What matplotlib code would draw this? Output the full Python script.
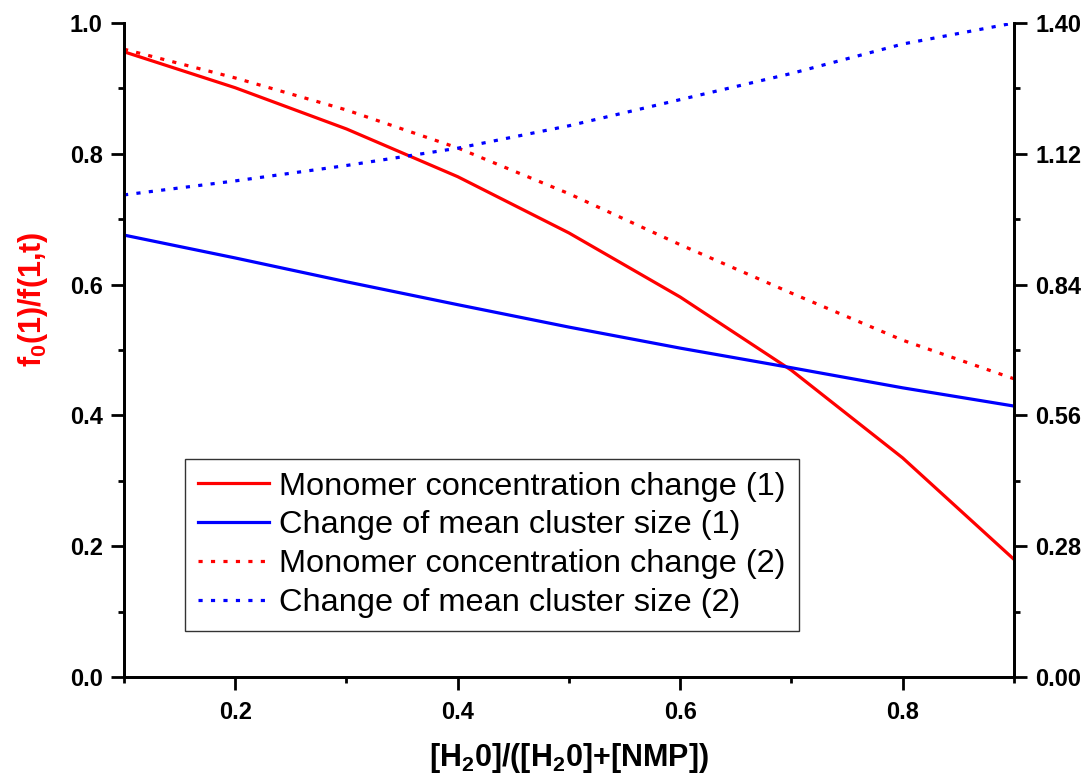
import matplotlib
matplotlib.use("Agg")
import matplotlib.pyplot as plt
from matplotlib.ticker import FixedLocator

plt.rcParams['font.family'] = ['Liberation Sans', 'DejaVu Sans']
plt.rcParams['mathtext.fontset'] = 'custom'
plt.rcParams['mathtext.rm'] = 'Liberation Sans'
plt.rcParams['mathtext.bf'] = 'Liberation Sans:bold'

# data
x = [0.1, 0.2, 0.3, 0.4, 0.5, 0.6, 0.7, 0.8, 0.9]
mono_1 = [0.956, 0.901, 0.838, 0.765, 0.679, 0.581, 0.469, 0.335, 0.180]
mono_2 = [0.960, 0.916, 0.867, 0.809, 0.739, 0.661, 0.587, 0.515, 0.456]
cluster_1 = [0.946, 0.897, 0.846, 0.797, 0.749, 0.704, 0.662, 0.619, 0.580]
cluster_2 = [1.032, 1.062, 1.095, 1.132, 1.180, 1.236, 1.292, 1.355, 1.400]

labels = ["Monomer concentration change (1)",
          "Change of mean cluster size (1)",
          "Monomer concentration change (2)",
          "Change of mean cluster size (2)"]
x_ticks = [0.2, 0.4, 0.6, 0.8]
left_ticks = [0.0, 0.2, 0.4, 0.6, 0.8, 1.0]
right_ticks = [0.0, 0.28, 0.56, 0.84, 1.12, 1.40]

fig = plt.figure(figsize=(10.89, 7.75), dpi=100)
ax = fig.add_axes([0.1139, 0.1265, 0.8171, 0.8438])
ax2 = ax.twinx()

lw = 2.3
dots = (0, (1.3, 2.6))
l1, = ax.plot(x, mono_1, color='#ff0000', lw=lw)
l3, = ax.plot(x, mono_2, color='#ff0000', lw=lw, linestyle=dots)
l2, = ax2.plot(x, cluster_1, color='#0000ff', lw=lw)
l4, = ax2.plot(x, cluster_2, color='#0000ff', lw=lw, linestyle=dots)

ax.set_xlim(0.1, 0.9)
ax.set_ylim(0, 1.0)
ax2.set_ylim(0, 1.40)

ax.xaxis.set_major_locator(FixedLocator(x_ticks))
ax.xaxis.set_minor_locator(FixedLocator([0.1, 0.3, 0.5, 0.7, 0.9]))
ax.yaxis.set_major_locator(FixedLocator(left_ticks))
ax.yaxis.set_minor_locator(FixedLocator([0.1, 0.3, 0.5, 0.7, 0.9]))
ax2.yaxis.set_major_locator(FixedLocator(right_ticks))
ax2.yaxis.set_minor_locator(FixedLocator([0.14, 0.42, 0.70, 0.98, 1.26]))
ax.set_xticklabels(["%.1f" % v for v in x_ticks])
ax.set_yticklabels(["%.1f" % v for v in left_ticks])
ax2.set_yticklabels(["%.2f" % v for v in right_ticks])

for a in (ax, ax2):
    a.spines['top'].set_visible(False)
    for s in a.spines.values():
        s.set_linewidth(2.0)
    a.tick_params(which='major', direction='out', length=9.4, width=2.0,
                  labelsize=17, pad=6)
    a.tick_params(which='minor', direction='out', length=4.5, width=2.0)
    for lab in a.get_yticklabels() + a.get_xticklabels():
        lab.set_fontweight('bold')
ax.tick_params(axis='x', pad=8)

ax.set_ylabel(r"f$_\mathbf{0}$(1)/f(1,t)", color='#ff0000', fontsize=22,
              fontweight='bold')
ax.yaxis.set_label_coords(-0.083, 0.578)
ax.set_xlabel(r"[H$_\mathbf{2}$0]/([H$_\mathbf{2}$0]+[NMP])", fontsize=22,
              fontweight='bold', labelpad=12)

leg = ax.legend([l1, l2, l3, l4], labels, loc='lower left',
                bbox_to_anchor=(0.0685, 0.0703), borderaxespad=0,
                fontsize=23.4, handlelength=2.2, handletextpad=0.3,
                labelspacing=0.27, fancybox=False, framealpha=1,
                borderpad=0.4)
leg.get_frame().set_edgecolor('#333333')
leg.get_frame().set_linewidth(1.0)

fig.savefig("out.png", dpi=100)
